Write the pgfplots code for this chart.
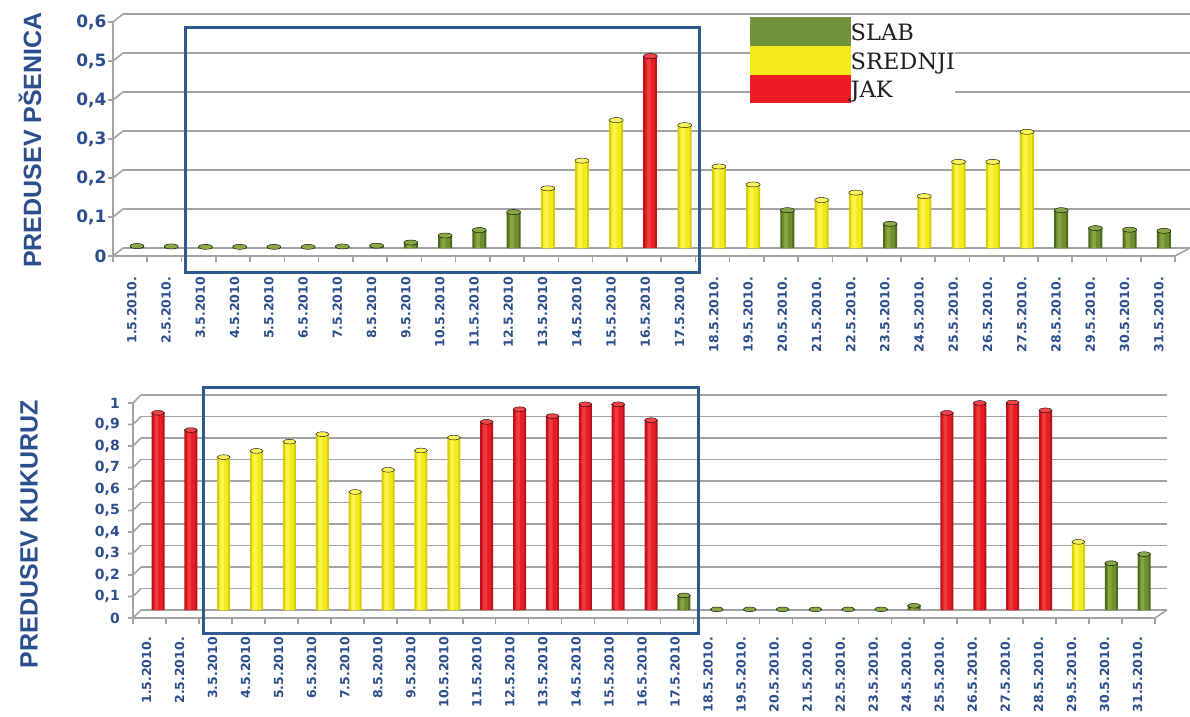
\documentclass[border=0pt]{standalone}
\usepackage{fontspec}
\usepackage{pgfplots}
\usepackage{pgfplotstable}
\pgfplotsset{compat=1.18}
\newfontfamily\dejavu{DejaVu Sans}
\newfontfamily\dvserif{DejaVu Serif}
\newfontfamily\arialb{Liberation Sans}

\definecolor{titleblue}{HTML}{2B4E8C}
\definecolor{boxblue}{HTML}{30598F}
\definecolor{gridgray}{HTML}{A3A3A3}
% SLAB / SREDNJI / JAK: edge, body, highlight, cap, legend key
\definecolor{slabD}{HTML}{4E6A1C}
\definecolor{slabM}{HTML}{6E8F2F}
\definecolor{slabL}{HTML}{86A543}
\definecolor{slabC}{HTML}{88A848}
\definecolor{slab}{HTML}{71923A}
\definecolor{srD}{HTML}{D6CC0C}
\definecolor{srM}{HTML}{F3EA1E}
\definecolor{srL}{HTML}{FBF44A}
\definecolor{srC}{HTML}{F9F25A}
\definecolor{sr}{HTML}{F4E91B}
\definecolor{jakD}{HTML}{BC121B}
\definecolor{jakM}{HTML}{E51E26}
\definecolor{jakL}{HTML}{F03A3E}
\definecolor{jakC}{HTML}{EF4448}
\definecolor{jak}{HTML}{ED1C24}

% ---- PREDUSEV PŠENICA ----
\pgfplotstableread{
day val
1 0.005
2 0.004
3 0.003
4 0.003
5 0.003
6 0.003
7 0.004
8 0.006
9 0.014
10 0.032
11 0.046
12 0.092
20 0.097
23 0.062
28 0.097
29 0.051
30 0.047
31 0.044
}\wheatSlab
\pgfplotstableread{
day val
13 0.153
14 0.224
15 0.328
17 0.315
18 0.209
19 0.163
21 0.123
22 0.142
24 0.133
25 0.221
26 0.221
27 0.298
}\wheatSred
\pgfplotstableread{
day val
16 0.492
}\wheatJak

% ---- PREDUSEV KUKURUZ ----
\pgfplotstableread{
day val
17 0.068
18 0.003
19 0.003
20 0.003
21 0.003
22 0.003
23 0.003
24 0.02
30 0.218
31 0.26
}\cornSlab
\pgfplotstableread{
day val
3 0.711
4 0.740
5 0.783
6 0.818
7 0.549
8 0.652
9 0.742
10 0.802
29 0.317
}\cornSred
\pgfplotstableread{
day val
1 0.917
2 0.837
11 0.875
12 0.934
13 0.902
14 0.957
15 0.957
16 0.883
25 0.917
26 0.963
27 0.965
28 0.929
}\cornJak

\pgfplotsset{
  dayaxis/.style={
    scale only axis, anchor=south west, clip=false,
    axis line style={draw=none}, major tick length=0pt,
    ymajorgrids, grid style={gridgray, line width=1.7pt},
    /pgf/number format/assume math mode=true,
    /pgf/number format/use comma,
    xticklabel style={font=\dejavu\bfseries\fontsize{12.5}{14}\selectfont,
      text=titleblue, inner sep=0pt},
    yticklabel style={text=titleblue, inner sep=0pt, anchor=east},
    ylabel style={font=\arialb\bfseries\fontsize{25}{30}\selectfont,
      text=titleblue, anchor=center},
  },
  layer/.style n args={3}{ybar, bar width=#1, bar shift=#2, draw=none,
    fill=#3, mark=none},
  cap/.style n args={2}{only marks, mark=*, mark size=#2,
    mark options={draw=none, fill=#1, yscale=0.36}, forget plot},
  % flat colour block used as legend key
  keyblock/.style={legend image code/.code={%
    \pgfsetfillcolor{#1}%
    \pgfpathrectangle{\pgfpoint{0pt}{-13.15pt}}{\pgfpoint{100.7pt}{28.7pt}}%
    \pgfusepath{fill}}},
}

% one series of cylinders: table, colour prefix, widths (outer, body, light), cap radius
\newcommand\cylinders[6]{%
  \addplot[layer={#3}{0pt}{#2D}, keyblock=#2] table[x=day,y=val] {#1};
  \addplot[layer={#4}{0pt}{#2M}, forget plot] table[x=day,y=val] {#1};
  \addplot[layer={#5}{-1.5pt}{#2L}, forget plot] table[x=day,y=val] {#1};
  \addplot[cap={#2C}{#6}] table[x=day,y=val] {#1};
}

\begin{document}
\begin{tikzpicture}
\useasboundingbox (0,0) rectangle (1190pt,716pt);

% front edges of the 3D frame (floor and value axis)
\begin{scope}[yshift=716pt, x=1pt, y=-1pt, gridgray, line width=1.6pt]
  % upper chart
  \draw (113,256) -- (113,22);
  \foreach \k in {0,...,6} {
    \pgfmathsetmacro\by{248-39*\k}
    \draw (108,\by+8) -- (113,\by+8) -- (123,\by);
  }
  \draw (113,256) -- (1175,256) -- (1190,248);
  \foreach \j in {0,...,31} {
    \draw (113+34.26*\j,256) -- (113+34.26*\j,262);
  }
  % lower chart
  \draw (133,618) -- (133,403);
  \foreach \k in {0,...,10} {
    \pgfmathsetmacro\by{610-21.5*\k}
    \draw (128,\by+8) -- (133,\by+8) -- (141,\by);
  }
  \draw (133,618) -- (1155,618) -- (1167,610);
  \foreach \j in {0,...,31} {
    \draw (133+32.97*\j,618) -- (133+32.97*\j,624);
  }
\end{scope}

% ---------------- PREDUSEV PŠENICA ----------------
\begin{axis}[dayaxis,
  at={(123pt,468pt)}, width=1067pt, height=234pt,
  xmin=0.591, xmax=31.763, ymin=0, ymax=0.6,
  ytick={0,0.1,0.2,0.3,0.4,0.5,0.6},
  yticklabel style={font=\dejavu\bfseries\fontsize{17}{20}\selectfont,
    xshift=-16.3pt, yshift=-8pt},
  xtick={0.85,1.85,...,30.85},
  xticklabels={1.5.2010.,2.5.2010.,3.5.2010,4.5.2010,5.5.2010,6.5.2010,
    7.5.2010,8.5.2010,9.5.2010,10.5.2010,11.5.2010,12.5.2010,13.5.2010,
    14.5.2010,15.5.2010,16.5.2010,17.5.2010,18.5.2010.,19.5.2010.,
    20.5.2010.,21.5.2010.,22.5.2010.,23.5.2010.,24.5.2010.,25.5.2010.,
    26.5.2010.,27.5.2010.,28.5.2010.,29.5.2010.,30.5.2010.,31.5.2010.},
  xticklabel style={yshift=-29pt, rotate=90, anchor=east},
  ylabel={PREDUSEV PŠENICA},
  ylabel style={at={(axis description cs:-0.087,0.4615)}},
  legend style={at={(axis cs:18.908,0.5915)}, anchor=north west,
    draw=none, fill=white, inner sep=0pt, outer sep=0pt, row sep=0pt,
    font=\dvserif\fontsize{22.5}{27}\selectfont, text=black!88,
    nodes={inner sep=0pt},
    /tikz/every even column/.style={column sep=1pt}},
  legend cell align=left,
]
\cylinders{\wheatSlab}{slab}{14pt}{10pt}{4pt}{7pt}
\addlegendentry{SLAB}
\cylinders{\wheatSred}{sr}{14pt}{10pt}{4pt}{7pt}
\addlegendentry{SREDNJI}
\cylinders{\wheatJak}{jak}{14pt}{10pt}{4pt}{7pt}
\addlegendentry{JAK}
\end{axis}

% ---------------- PREDUSEV KUKURUZ ----------------
\begin{axis}[dayaxis,
  at={(141pt,106pt)}, width=1026pt, height=215pt,
  xmin=0.4828, xmax=31.696, ymin=0, ymax=1,
  ytick={0,0.1,0.2,0.3,0.4,0.5,0.6,0.7,0.8,0.9,1},
  yticklabel style={font=\dejavu\bfseries\fontsize{14}{16}\selectfont,
    xshift=-21pt, yshift=-8pt},
  xtick={0.65,1.655,...,30.8},
  xticklabels={1.5.2010.,2.5.2010.,3.5.2010,4.5.2010,5.5.2010,6.5.2010,
    7.5.2010,8.5.2010,9.5.2010,10.5.2010,11.5.2010,12.5.2010,13.5.2010,
    14.5.2010,15.5.2010,16.5.2010,17.5.2010,18.5.2010.,19.5.2010.,
    20.5.2010.,21.5.2010.,22.5.2010.,23.5.2010.,24.5.2010.,25.5.2010.,
    26.5.2010.,27.5.2010.,28.5.2010.,29.5.2010.,30.5.2010.,31.5.2010.},
  xticklabel style={yshift=-27pt, rotate=90, anchor=east},
  ylabel={PREDUSEV KUKURUZ},
  ylabel style={at={(axis description cs:-0.1092,0.353)}},
]
\cylinders{\cornSlab}{slab}{13pt}{9pt}{3.5pt}{6.5pt}
\cylinders{\cornSred}{sr}{13pt}{9pt}{3.5pt}{6.5pt}
\cylinders{\cornJak}{jak}{13pt}{9pt}{3.5pt}{6.5pt}
\end{axis}

% highlighted periods
\begin{scope}[yshift=716pt, x=1pt, y=-1pt]
  \draw[boxblue, line width=3pt] (185,28) rectangle (699,272);
  \draw[boxblue, line width=3pt] (203,387) rectangle (698,633);
\end{scope}
\end{tikzpicture}
\end{document}
